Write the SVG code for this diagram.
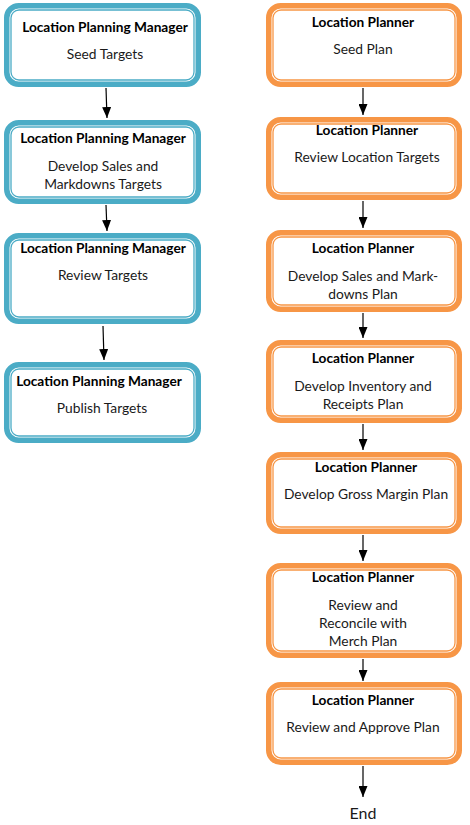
<svg xmlns="http://www.w3.org/2000/svg" width="470" height="825" viewBox="0 0 470 825">
<style>
.bo{fill:#fff;stroke:#4bacc6;stroke-width:5.5}
.bi{fill:none;stroke:#4bacc6;stroke-width:1.3}
.oo{fill:#fff;stroke:#f79646;stroke-width:5.5}
.oi{fill:none;stroke:#f79646;stroke-width:1.3}
text{font-family:Lato,"Open Sans","Liberation Sans",sans-serif;text-anchor:middle;fill:#1a1a1a}
.t{font-weight:bold;font-size:13.7px;fill:#000}
.d{font-size:13.8px}
.c{stroke:#000;stroke-width:1.2;fill:none;marker-end:url(#ah)}
</style>
<defs>
<marker id="ah" markerWidth="11" markerHeight="9" refX="11" refY="4.5" orient="auto" markerUnits="userSpaceOnUse" viewBox="0 0 11 9">
<path d="M0,0 L11,4.5 L0,9 Z" fill="#000"/>
</marker>
</defs>
<g id="connectors">
<path class="c" d="M106,88 L107,118"/>
<path class="c" d="M106,205 L107,231"/>
<path class="c" d="M103,326 L104,360"/>
<path class="c" d="M363,88 L363,115"/>
<path class="c" d="M363,201 L363,228"/>
<path class="c" d="M363,313 L363,338"/>
<path class="c" d="M363,424 L363,450"/>
<path class="c" d="M363,535 L363,561"/>
<path class="c" d="M363,659 L363,681"/>
<path class="c" d="M363,766 L363,797"/>
</g>
<g id="L1">
<rect class="bo" x="6.75" y="5.75" width="191.5" height="78.5" rx="12"/>
<rect class="bi" x="11" y="10" width="183" height="70" rx="8"/>
<text class="t" x="105" y="32">Location Planning Manager</text>
<text class="d" x="105" y="59">Seed Targets</text>
</g>
<g id="L2">
<rect class="bo" x="6.75" y="122.75" width="191.5" height="78.5" rx="12"/>
<rect class="bi" x="11" y="127" width="183" height="70" rx="8"/>
<text class="t" x="103" y="143">Location Planning Manager</text>
<text class="d" x="103" y="171">Develop Sales and</text>
<text class="d" x="103" y="189">Markdowns Targets</text>
</g>
<g id="L3">
<rect class="bo" x="6.75" y="235.75" width="191.5" height="85.5" rx="12"/>
<rect class="bi" x="11" y="240" width="183" height="77" rx="8"/>
<text class="t" x="103" y="253">Location Planning Manager</text>
<text class="d" x="103" y="280">Review Targets</text>
</g>
<g id="L4">
<rect class="bo" x="6.75" y="364.75" width="191.5" height="75.5" rx="12"/>
<rect class="bi" x="11" y="369" width="183" height="67" rx="8"/>
<text class="t" x="99" y="386">Location Planning Manager</text>
<text class="d" x="102" y="413">Publish Targets</text>
</g>
<g id="R1">
<rect class="oo" x="268.75" y="5.75" width="190.5" height="78.5" rx="12"/>
<rect class="oi" x="273" y="10" width="182" height="70" rx="8"/>
<text class="t" x="363" y="27">Location Planner</text>
<text class="d" x="363" y="54">Seed Plan</text>
</g>
<g id="R2">
<rect class="oo" x="268.75" y="119.75" width="190.5" height="77.5" rx="12"/>
<rect class="oi" x="273" y="124" width="182" height="69" rx="8"/>
<text class="t" x="367" y="135">Location Planner</text>
<text class="d" x="367" y="162">Review Location Targets</text>
</g>
<g id="R3">
<rect class="oo" x="268.75" y="232.75" width="190.5" height="76.5" rx="12"/>
<rect class="oi" x="273" y="237" width="182" height="68" rx="8"/>
<text class="t" x="363" y="253">Location Planner</text>
<text class="d" x="363" y="281">Develop Sales and Mark-</text>
<text class="d" x="363" y="299">downs Plan</text>
</g>
<g id="R4">
<rect class="oo" x="268.75" y="342.75" width="190.5" height="77.5" rx="12"/>
<rect class="oi" x="273" y="347" width="182" height="69" rx="8"/>
<text class="t" x="363" y="363">Location Planner</text>
<text class="d" x="363" y="391">Develop Inventory and</text>
<text class="d" x="363" y="409">Receipts Plan</text>
</g>
<g id="R5">
<rect class="oo" x="268.75" y="454.75" width="190.5" height="76.5" rx="12"/>
<rect class="oi" x="273" y="459" width="182" height="68" rx="8"/>
<text class="t" x="366" y="472">Location Planner</text>
<text class="d" x="366" y="499">Develop Gross Margin Plan</text>
</g>
<g id="R6">
<rect class="oo" x="268.75" y="565.75" width="190.5" height="89.5" rx="12"/>
<rect class="oi" x="273" y="570" width="182" height="81" rx="8"/>
<text class="t" x="363" y="582">Location Planner</text>
<text class="d" x="363" y="610">Review and</text>
<text class="d" x="363" y="628">Reconcile with</text>
<text class="d" x="363" y="646">Merch Plan</text>
</g>
<g id="R7">
<rect class="oo" x="268.75" y="684.75" width="190.5" height="77.5" rx="12"/>
<rect class="oi" x="273" y="689" width="182" height="69" rx="8"/>
<text class="t" x="363" y="705">Location Planner</text>
<text class="d" x="363" y="732">Review and Approve Plan</text>
</g>
<g id="End">
<text class="d" x="363" y="819" style="font-size:16px">End</text>
</g>
</svg>
